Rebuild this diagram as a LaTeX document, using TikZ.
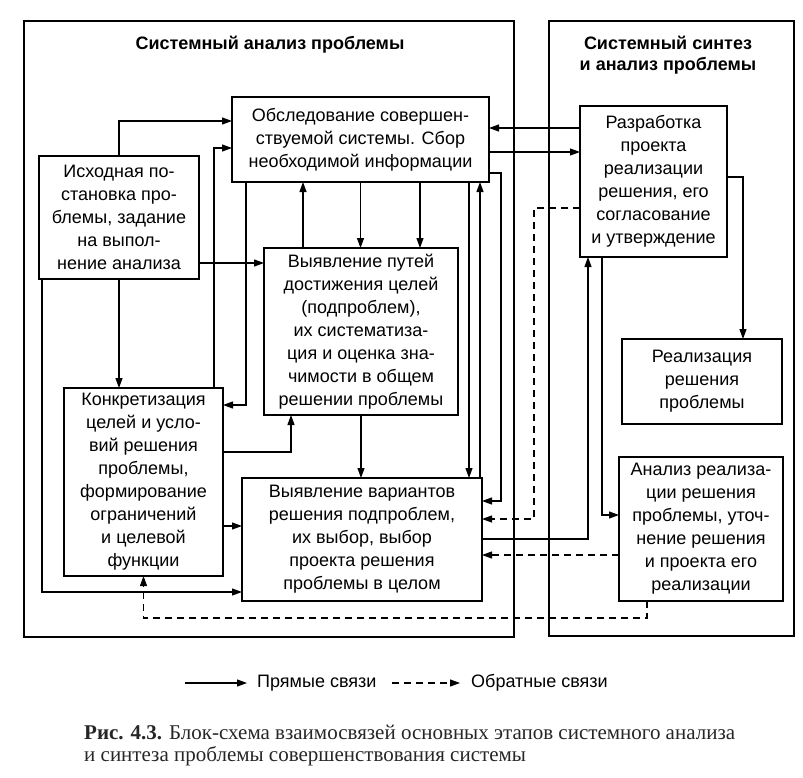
\documentclass[tikz,border=0pt]{standalone}
\usepackage{fontspec}
\setmainfont{Liberation Sans}
\newfontfamily\capfont{Liberation Serif}
\usetikzlibrary{arrows.meta}

\begin{document}
\begin{tikzpicture}[x=1pt,y=-1pt,>={Triangle[length=10pt,width=7pt]},
        font=\fontsize{18}{23}\selectfont,
        box/.style={draw,line width=1.3pt,align=center,inner sep=2pt,outer sep=0pt},
        panel/.style={draw,line width=1.6pt},
        heading/.style={font=\fontsize{18}{21}\selectfont\bfseries,align=center},
        direct/.style={->,line width=1.1pt},
        feedback/.style={->,line width=1.1pt,dash pattern=on 7pt off 5pt}]
        \useasboundingbox (0,0) rectangle (803,777);
        \draw[panel] (24,21) rectangle (514,637);
        \draw[panel] (549,21) rectangle (794,636);
        \node[heading] (analiztitle) at (270,45) {Системный анализ проблемы};
        \node[heading] (sinteztitle) at (668,55) {Системный синтез\\и анализ проблемы};
        % blocks
        \node[box,minimum width=257pt,minimum height=85pt] (obsled) at (360.5,139.5) {Обследование совершен-\\ствуемой системы. Сбор\\необходимой информации};
        \node[box,minimum width=160pt,minimum height=123pt] (iskhod) at (119,217.5) {Исходная по-\\становка про-\\блемы, задание\\на выпол-\\нение анализа};
        \node[box,minimum width=194pt,minimum height=167pt] (puti) at (361,331.5) {Выявление путей\\достижения целей\\(подпроблем),\\их систематиза-\\ция и оценка зна-\\чимости в общем\\решении проблемы};
        \node[box,minimum width=159pt,minimum height=188pt] (konkr) at (143.5,482) {Конкретизация\\целей и усло-\\вий решения\\проблемы,\\формирование\\ограничений\\и целевой\\функции};
        \node[box,minimum width=240pt,minimum height=123pt] (varianty) at (362,539.5) {Выявление вариантов\\решения подпроблем,\\их выбор, выбор\\проекта решения\\проблемы в целом};
        \node[box,minimum width=147pt,minimum height=151pt] (razrab) at (653.5,181.5) {Разработка\\проекта\\реализации\\решения, его\\согласование\\и утверждение};
        \node[box,minimum width=160pt,minimum height=85pt] (realiz) at (702,381.5) {Реализация\\решения\\проблемы};
        \node[box,minimum width=164pt,minimum height=144pt] (analiz) at (701,529) {Анализ реализа-\\ции решения\\проблемы, уточ-\\нение решения\\и проекта его\\реализации};
        % links
        \draw[direct] (iskhod.north) |- ([yshift=-24pt]obsled.north west);
        \draw[direct] ([xshift=-9pt]konkr.north east) |- ([yshift=-51pt]obsled.north west);
        \draw[direct] ([xshift=14pt]obsled.south west) |- ([yshift=-17pt]konkr.north east);
        \draw[direct] ([yshift=16pt]iskhod.south east) -- ([yshift=-15pt]puti.north west);
        \draw[direct] (iskhod.south) -- (iskhod.south |- konkr.north);
        \draw[direct] ([xshift=3pt]iskhod.south west) |- ([yshift=9pt]varianty.south west);
        \draw[direct] ([yshift=-64pt]konkr.north east) -| ([xshift=27pt]puti.south west);
        \draw[direct] ([yshift=-138pt]konkr.north east) -- ([yshift=-48pt]varianty.north west);
        \draw[direct] ([xshift=39pt]puti.north west) -- ([xshift=39pt]puti.north west |- obsled.south);
        \draw[direct] (obsled.south) -- (obsled.south |- puti.north);
        \draw[direct] ([xshift=-38pt]puti.north east |- obsled.south) -- ([xshift=-38pt]puti.north east);
        \draw[direct] (puti.south) -- (puti.south |- varianty.north);
        \draw[direct] ([xshift=-20pt]obsled.south east) -- ([xshift=-20pt]obsled.south east |- varianty.north);
        \draw[direct] ([xshift=-2pt]varianty.north east) -- ([xshift=-9pt]obsled.south east);
        \draw[direct] ([yshift=9pt]obsled.south east) -- ++(12,0) |- ([yshift=-23pt]varianty.north east);
        \draw[feedback] ([yshift=-102pt]razrab.north west) -- ++(-46,0) |- ([yshift=-41pt]varianty.north east);
        \draw[direct] ([yshift=-61pt]varianty.north east) -| ([xshift=8pt]razrab.south west);
        \draw[direct] ([xshift=22pt]razrab.south west) |- ([yshift=-58pt]analiz.north west);
        \draw[feedback] ([yshift=-98pt]analiz.north west) -- ([yshift=-77pt]varianty.north east);
        \draw[feedback] ([xshift=28pt]analiz.south west) -- ++(0,17) -| (konkr.south);
        \draw[direct] ([yshift=-22pt]razrab.north west) -- ([yshift=-31pt]obsled.north east);
        \draw[direct] ([yshift=-55pt]obsled.north east) -- ([yshift=-46pt]razrab.north west);
        \draw[direct] ([yshift=-71pt]razrab.north east) -| ([xshift=-39pt]realiz.north east);
        % legend and caption
        \node[anchor=west,inner sep=0pt] (pryam) at (257,683) {Прямые связи};
        \node[anchor=west,inner sep=0pt] (obrat) at (471,683) {Обратные связи};
        \draw[direct] ([xshift=-72pt]pryam.west) -- ([xshift=-10pt]pryam.west);
        \draw[feedback] ([xshift=-79pt]obrat.west) -- ([xshift=-11pt]obrat.west);
        \node[anchor=west,inner sep=0pt,align=left,text=black!85,font=\capfont\fontsize{21}{22}\selectfont] (podpis) at (84,746) {\textbf{Рис. 4.3.} Блок-схема взаимосвязей основных этапов системного анализа\\и синтеза проблемы совершенствования системы};
    \end{tikzpicture}
\end{document}
